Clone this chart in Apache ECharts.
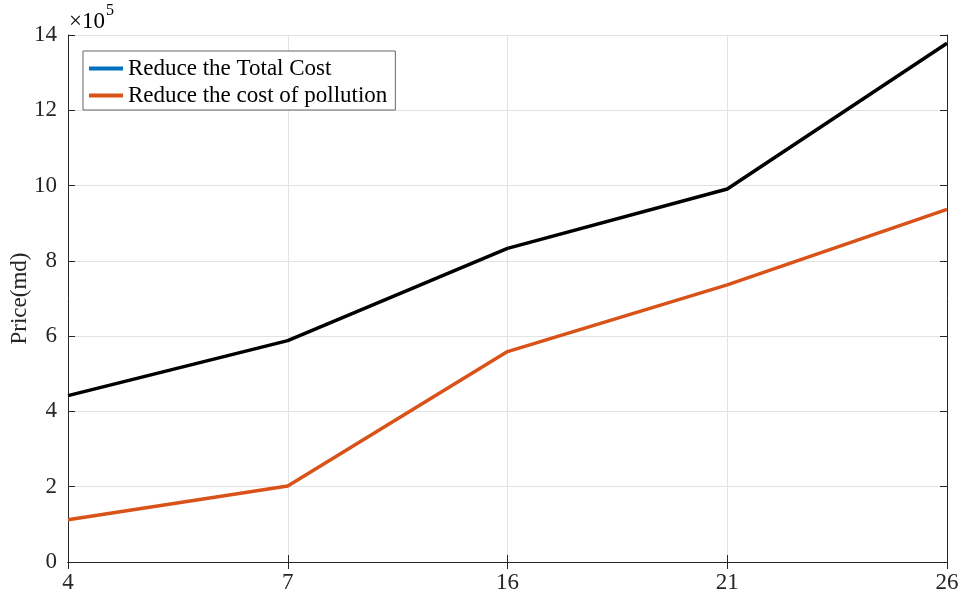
<!DOCTYPE html>
<html>
<head>
<meta charset="utf-8">
<script src="https://cdn.jsdelivr.net/npm/echarts@6/dist/echarts.min.js"></script>
<style>
  html, body { margin: 0; padding: 0; background: #fff; }
  #chart { width: 963px; height: 600px; }
</style>
</head>
<body>
<div id="chart"></div>
<script>
// data (Price in md)
const categories = ['4', '7', '16', '21', '26'];
const totalCost = [442000, 588000, 833000, 991000, 1378000];
const pollutionCost = [112000, 202000, 559000, 736000, 937000];
const seriesNames = ['Reduce the Total Cost', 'Reduce the cost of pollution'];

const FONT = '"Liberation Serif", "Times New Roman", serif';
const AXIS_COLOR = '#262626';

const chart = echarts.init(document.getElementById('chart'));

const tickLabel = {
  color: AXIS_COLOR,
  fontFamily: FONT,
  fontSize: 23
};

chart.setOption({
  animation: false,
  backgroundColor: '#fff',
  grid: { left: 68, right: 16, top: 35, bottom: 38, outerBoundsMode: 'none', containLabel: false },
  graphic: [{
    type: 'text',
    left: 69,
    top: 3,
    style: {
      text: '{a|×10}{b|5}',
      rich: {
        a: { fontFamily: FONT, fontSize: 23, color: AXIS_COLOR, padding: [11, 0, 0, 0] },
        b: { fontFamily: FONT, fontSize: 16, color: AXIS_COLOR, padding: [0, 0, 11, 1] }
      }
    }
  }],
  legend: {
    orient: 'vertical',
    left: 83,
    top: 51,
    padding: [6, 8, 3, 6],
    itemGap: 4,
    itemWidth: 34,
    itemHeight: 4,
    icon: 'rect',
    backgroundColor: '#fff',
    borderColor: '#666',
    borderWidth: 1,
    borderRadius: 0,
    textStyle: { fontFamily: FONT, fontSize: 23, color: '#000' },
    data: [
      { name: seriesNames[0], itemStyle: { color: '#0072BD' } },
      { name: seriesNames[1], itemStyle: { color: '#D95319' } }
    ]
  },
  xAxis: [{
    type: 'category',
    data: categories,
    boundaryGap: false,
    axisLine: { lineStyle: { color: AXIS_COLOR, width: 1 } },
    axisTick: { inside: true, length: 7, lineStyle: { color: AXIS_COLOR } },
    axisLabel: Object.assign({ margin: 9 }, tickLabel),
    splitLine: { show: true, lineStyle: { color: '#e3e3e3', width: 1 } }
  }, {
    type: 'category',
    data: categories,
    position: 'top',
    boundaryGap: false,
    axisLine: { lineStyle: { color: AXIS_COLOR, width: 1 } },
    axisTick: { show: true, inside: true, length: 7, lineStyle: { color: AXIS_COLOR } },
    axisLabel: { show: false },
    splitLine: { show: false }
  }],
  yAxis: [{
    type: 'value',
    min: 0,
    max: 1400000,
    interval: 200000,
    name: 'Price(md)',
    nameLocation: 'middle',
    nameGap: 37,
    nameMoveOverlap: false,
    nameTextStyle: { fontFamily: FONT, fontSize: 23, color: AXIS_COLOR },
    axisLine: { show: true, lineStyle: { color: AXIS_COLOR, width: 1 } },
    axisTick: { show: true, inside: true, length: 7, lineStyle: { color: AXIS_COLOR } },
    axisLabel: Object.assign({ margin: 11, formatter: v => String(v / 100000) }, tickLabel),
    splitLine: { show: true, lineStyle: { color: '#e3e3e3', width: 1 } }
  }, {
    type: 'value',
    min: 0,
    max: 1400000,
    interval: 200000,
    position: 'right',
    axisLine: { show: true, lineStyle: { color: AXIS_COLOR, width: 1 } },
    axisTick: { show: true, inside: true, length: 7, lineStyle: { color: AXIS_COLOR } },
    axisLabel: { show: false },
    splitLine: { show: false }
  }],
  series: [{
    name: seriesNames[0],
    type: 'line',
    data: totalCost,
    symbol: 'none',
    itemStyle: { color: '#0072BD' },
    lineStyle: { color: '#000', width: 3.5 },
    z: 3
  }, {
    name: seriesNames[1],
    type: 'line',
    data: pollutionCost,
    symbol: 'none',
    itemStyle: { color: '#D95319' },
    lineStyle: { color: '#D95319', width: 3.5 },
    z: 2
  }]
});
</script>
</body>
</html>
